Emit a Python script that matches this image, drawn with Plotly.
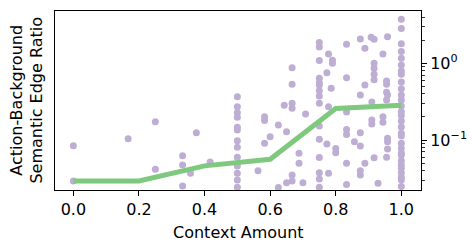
import plotly.graph_objects as go
import numpy as np

# scatter points: context amount (x) and ratio (y)
pts_x = (
    [0.0, 0.0, 0.167, 0.25, 0.25, 0.333, 0.333, 0.333, 0.357, 0.375, 0.417]
    + [0.5] * 13
    + [0.563, 0.583, 0.583, 0.583, 0.6, 0.625, 0.625, 0.643, 0.65, 0.65]
    + [0.667] * 6
    + [0.7, 0.688, 0.688, 0.708]
    + [0.75] * 15
    + [0.773, 0.773, 0.778, 0.778, 0.778, 0.786, 0.79, 0.79, 0.8, 0.8]
    + [0.833] * 7
    + [0.857]
    + [0.875] * 6
    + [0.889] * 3
    + [0.908]
    + [0.917] * 6
    + [0.91, 0.91, 0.91, 0.929, 0.944, 0.944, 0.944]
    + [0.955] * 5
    + [0.958] * 5
    + [1.0] * 30
)
pts_y = (
    [0.0843, 0.0292, 0.104, 0.173, 0.0415, 0.0624, 0.0472, 0.0251, 0.0368, 0.1245, 0.0516]
    + [0.367, 0.272, 0.227, 0.198, 0.1465, 0.135, 0.098, 0.0803, 0.0595, 0.0458, 0.0368, 0.0301, 0.0242]
    + [0.0398, 0.201, 0.179, 0.0906, 0.110, 0.157, 0.024, 0.283, 0.128, 0.0277]
    + [0.877, 0.532, 0.301, 0.259, 0.035, 0.0292]
    + [0.0277, 0.067, 0.0497, 0.218]
    + [1.87, 1.63, 1.09, 0.637, 0.559, 0.521, 0.44, 0.375, 0.301, 0.152, 0.102, 0.0591, 0.0375, 0.031, 0.0242]
    + [0.754, 0.0887, 1.32, 0.272, 0.0368, 0.472, 1.10, 1.0, 0.0775, 0.0683]
    + [1.77, 0.649, 0.232, 0.137, 0.118, 0.0497, 0.0263]
    + [0.095]
    + [2.07, 0.386, 0.1245, 0.0835, 0.0398, 0.035]
    + [1.57, 0.521, 0.0497]
    + [2.18]
    + [2.06, 1.0, 0.861, 0.719, 0.611, 0.0588]
    + [0.313, 0.182, 0.162, 0.0273, 1.32, 0.201, 0.17]
    + [0.588, 0.532, 0.419, 0.332, 0.0595]
    + [2.22, 0.386, 0.105, 0.095, 0.0763]
    + [3.75, 2.84, 1.80, 1.42, 1.16, 0.951, 0.794, 0.719, 0.570, 0.467,
       0.386, 0.332, 0.277, 0.234, 0.209, 0.177, 0.148, 0.122, 0.113, 0.0906,
       0.078, 0.0677, 0.0637, 0.0537, 0.0472, 0.0428, 0.0375, 0.0326, 0.0301, 0.0248]
)

# median line
line_x = [0.0, 0.2, 0.4, 0.6, 0.8, 1.0]
line_y = [0.0292, 0.0292, 0.046, 0.056, 0.258, 0.284]

x_ticks = [0.0, 0.2, 0.4, 0.6, 0.8, 1.0]
x_tick_labels = ["0.0", "0.2", "0.4", "0.6", "0.8", "1.0"]
y_ticks = [0.1, 1.0]
y_tick_labels = ["10<sup>−1</sup>", "10<sup>0</sup>"]

minor_vals = [m * 10.0 ** e for e in (-2, -1, 0) for m in range(2, 10)]

font = dict(family="DejaVu Sans", size=16, color="black")

fig = go.Figure()
fig.add_trace(go.Scatter(
    x=pts_x, y=pts_y, mode="markers",
    marker=dict(color="#beaed4", size=7, line=dict(width=0)),
    showlegend=False, hoverinfo="skip"))
fig.add_trace(go.Scatter(
    x=line_x, y=line_y, mode="lines",
    line=dict(color="#7fc97f", width=5),
    showlegend=False, hoverinfo="skip"))

fig.update_layout(
    width=471, height=241,
    margin=dict(l=55, r=50, t=11, b=51, autoexpand=False),
    paper_bgcolor="white", plot_bgcolor="white",
    font=font,
    xaxis=dict(
        range=[-0.056, 1.06], tickvals=x_ticks, ticktext=x_tick_labels,
        showgrid=False, zeroline=False, showline=True, linecolor="black",
        linewidth=1, mirror=True, ticks="outside", ticklen=5, tickwidth=1,
        tickcolor="black", tickfont=font, automargin=False,
    ),
    yaxis=dict(
        type="log", range=[-1.652, 0.682], side="right",
        tickvals=y_ticks, ticktext=y_tick_labels,
        showgrid=False, zeroline=False, showline=True, linecolor="black",
        linewidth=1, mirror=True, ticks="outside", ticklen=5, tickwidth=1,
        tickcolor="black", tickfont=font, automargin=False,
        minor=dict(tickvals=minor_vals, ticks="outside", ticklen=3,
                   tickwidth=0.8, tickcolor="black", showgrid=False),
    ),
    annotations=[
        dict(text="Context Amount", x=0.5, y=-0.235, xref="paper", yref="paper",
             showarrow=False, font=font, xanchor="center", yanchor="middle",
             borderpad=0),
        dict(text="Action-Background<br>Semantic Edge Ratio", x=-0.079, y=0.5,
             xref="paper", yref="paper", textangle=-90, showarrow=False,
             font=font, xanchor="center", yanchor="middle"),
    ],
)

fig.write_html(
    "out.html",
    config={"displayModeBar": False, "staticPlot": True},
    post_script="document.body.style.margin='0';document.body.style.overflow='hidden';",
)
